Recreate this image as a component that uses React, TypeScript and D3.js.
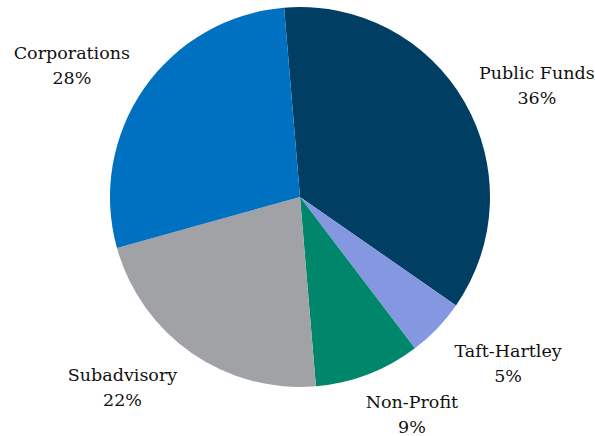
import React, { useEffect, useRef } from 'react'
import { select, pie, arc } from 'd3'

const categories = ['Public Funds', 'Taft-Hartley', 'Non-Profit', 'Subadvisory', 'Corporations']
const shares = [36, 5, 9, 22, 28]
const colors = ['#003f63', '#8497e0', '#00876b', '#a0a2a5', '#0070c0']
// label nudges from the polar anchor (px)
const labelNudge = [[10, 19], [19, -15], [18, -28], [-28, -25], [-13, 18]]

function App() {
  const ref = useRef<SVGSVGElement>(null)

  useEffect(() => {
    const width = 595, height = 436
    const cx = 300, cy = 197, r = 190
    const svg = select(ref.current)
      .attr('width', width)
      .attr('height', height)
    svg.selectAll('*').remove()

    const g = svg.append('g').attr('transform', `translate(${cx},${cy})`)

    const start = (-4.8 * Math.PI) / 180
    const slices = pie<number>()
      .sort(null)
      .startAngle(start)
      .endAngle(start + 2 * Math.PI)(shares)

    const arcGen = arc<any>().innerRadius(0).outerRadius(r)

    g.selectAll('path')
      .data(slices)
      .enter()
      .append('path')
      .attr('d', arcGen)
      .attr('fill', (d, i) => colors[i])

    const labelR = 262
    const lab = g.selectAll('g.lab')
      .data(slices)
      .enter()
      .append('g')
      .attr('class', 'lab')
      .attr('transform', (d, i) => {
        const a = (d.startAngle + d.endAngle) / 2
        const x = labelR * Math.sin(a) + labelNudge[i][0]
        const y = -labelR * Math.cos(a) + labelNudge[i][1]
        return `translate(${x},${y})`
      })

    lab.append('text')
      .attr('text-anchor', 'middle')
      .attr('y', -6)
      .style('font-family', 'DejaVu Serif')
      .style('font-size', '17.5px')
      .style('fill', '#111')
      .text((d, i) => categories[i])

    lab.append('text')
      .attr('text-anchor', 'middle')
      .attr('y', 19)
      .style('font-family', 'DejaVu Serif')
      .style('font-size', '17.5px')
      .style('fill', '#111')
      .text(d => `${d.data}%`)
  }, [])

  return (
    <svg ref={ref} style={{ position: 'absolute', left: 0, top: 0 }}></svg>
  )
}

export default App
